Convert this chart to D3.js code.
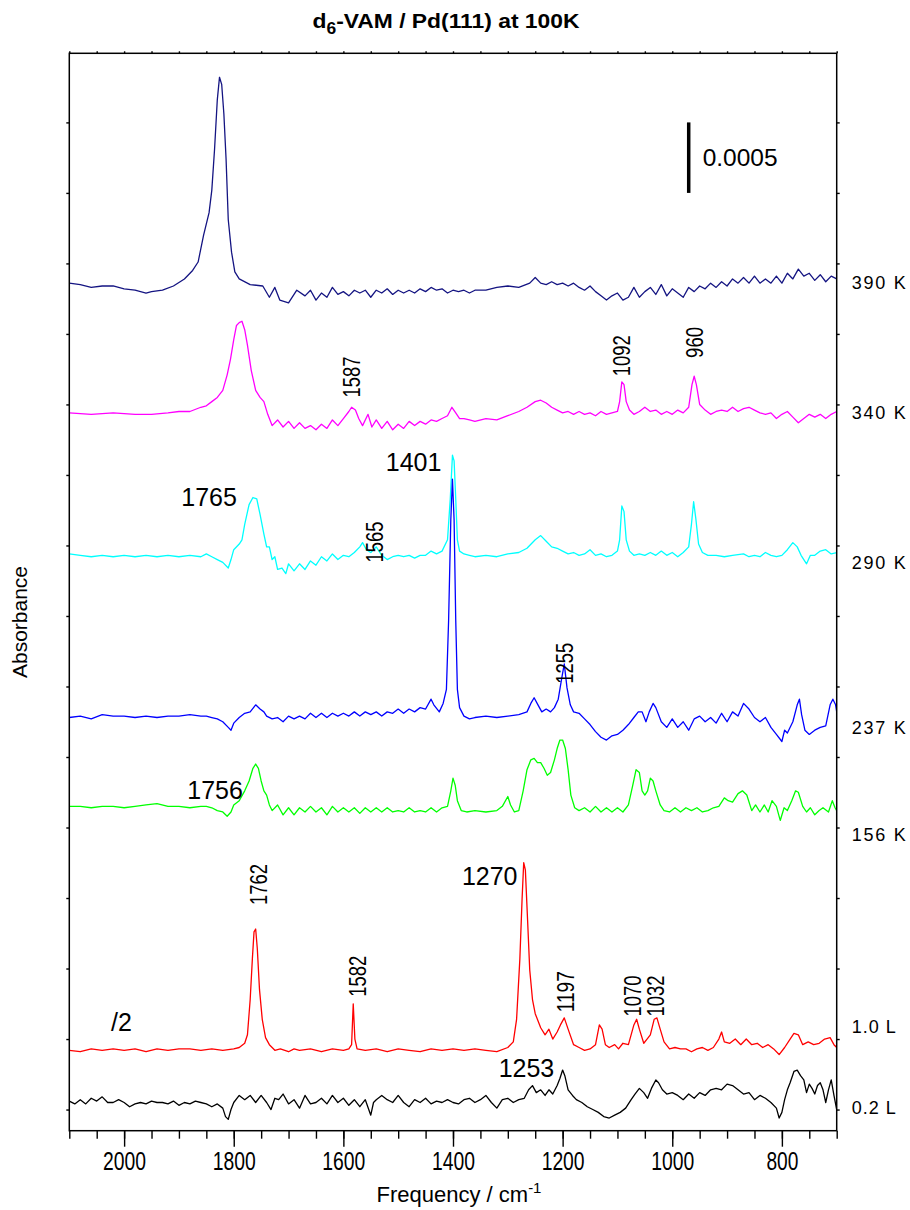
<!DOCTYPE html>
<html>
<head>
<meta charset="utf-8">
<script src="https://cdn.jsdelivr.net/npm/d3@7"></script>
<style>
  body { margin: 0; background: #fff; }
  svg { display: block; font-family: "Liberation Sans", Arial, Helvetica, sans-serif; }
</style>
</head>
<body>
<div id="viz"></div>
<script>
// spectra: [wavenumber cm-1, absorbance x 1e-5, relative to the trace baseline]
const spec390 = [[2100,1],[2080,0],[2060,-2],[2040,-1],[2020,-1],[2000,-3],[1980,-4],[1960,-6],[1950,-5],[1930,-4],[1910,-1],[1890,4],[1875,10],[1865,16],[1855,35],[1845,51],[1840,67],[1835,96],[1830,131],[1826,147],[1822,142],[1818,121],[1814,89],[1810,46],[1804,23],[1798,9],[1790,4],[1770,0],[1747,-1],[1735,-9],[1725,-2],[1716,-11],[1700,-13],[1685,-4],[1670,-8],[1660,-4],[1650,-11],[1640,-6],[1630,-9],[1620,-2],[1610,-7],[1600,-5],[1590,-8],[1580,-4],[1570,-6],[1560,-4],[1550,-9],[1540,-4],[1530,-6],[1520,-3],[1510,-7],[1500,-4],[1490,-6],[1480,-4],[1470,-6],[1460,-3],[1450,-5],[1440,-2],[1430,-4],[1420,-3],[1410,-6],[1400,-4],[1390,-5],[1380,-4],[1370,-6],[1360,-4],[1340,-4],[1320,-2],[1300,-1],[1280,-2],[1260,1],[1250,5],[1240,1],[1230,0],[1220,2],[1210,0],[1200,1],[1190,-1],[1180,1],[1170,-2],[1160,-4],[1150,-1],[1140,-5],[1130,-8],[1120,-11],[1110,-8],[1100,-6],[1090,-11],[1080,-9],[1070,-2],[1060,-9],[1050,-5],[1040,-2],[1030,-7],[1020,0],[1010,-8],[1000,-3],[990,-6],[980,-9],[970,-2],[960,-5],[950,-1],[940,-3],[930,1],[920,-2],[910,2],[900,-1],[890,4],[880,1],[870,5],[860,1],[850,6],[840,1],[830,4],[820,1],[810,6],[800,1],[790,8],[780,4],[770,11],[760,6],[750,8],[740,3],[730,7],[720,2],[710,6],[700,4]];

const spec340 = [[2100,0],[2060,-1],[2020,0],[1980,-1],[1950,-1],[1920,0],[1900,1],[1880,1],[1860,4],[1850,5],[1840,8],[1830,11],[1820,16],[1812,27],[1806,38],[1800,52],[1795,62],[1790,64],[1785,65],[1780,59],[1775,48],[1768,30],[1760,16],[1752,11],[1745,8],[1738,-1],[1730,-9],[1720,-5],[1710,-10],[1700,-6],[1690,-11],[1680,-7],[1670,-11],[1660,-9],[1650,-12],[1640,-8],[1630,-11],[1620,-5],[1610,-9],[1600,-4],[1590,1],[1585,4],[1578,2],[1572,-4],[1565,-9],[1555,-1],[1548,-10],[1540,-5],[1530,-11],[1520,-6],[1510,-12],[1500,-8],[1490,-11],[1480,-6],[1470,-9],[1460,-6],[1450,-8],[1440,-5],[1430,-6],[1420,-4],[1410,-2],[1402,4],[1395,0],[1388,-4],[1380,-4],[1370,-5],[1360,-6],[1340,-4],[1320,-5],[1300,-2],[1280,1],[1265,4],[1250,8],[1240,9],[1230,7],[1220,4],[1210,2],[1200,0],[1190,1],[1180,-1],[1170,1],[1160,-1],[1150,0],[1140,-2],[1130,1],[1120,-1],[1110,0],[1100,1],[1096,8],[1092,22],[1088,20],[1084,8],[1078,2],[1070,-1],[1060,1],[1050,4],[1040,1],[1030,2],[1020,-1],[1010,1],[1000,-1],[990,2],[980,0],[970,4],[964,20],[960,26],[956,20],[950,6],[940,2],[930,-1],[920,1],[910,2],[900,1],[890,4],[880,1],[870,3],[860,4],[850,2],[840,0],[830,-1],[820,0],[810,-4],[800,-1],[790,1],[780,-3],[770,-7],[760,-4],[750,-1],[740,-3],[730,-1],[720,-4],[710,-1],[700,1]];

const spec290 = [[2100,1],[2080,0],[2060,-1],[2040,0],[2020,-1],[2000,0],[1980,-1],[1960,0],[1940,-1],[1920,0],[1900,-1],[1880,0],[1860,-1],[1850,1],[1840,-1],[1830,-3],[1820,-5],[1810,-9],[1805,-3],[1800,4],[1790,8],[1785,11],[1780,22],[1772,36],[1765,41],[1758,40],[1752,29],[1745,15],[1740,6],[1735,6],[1730,-3],[1725,-1],[1720,-10],[1712,-9],[1705,-13],[1700,-6],[1690,-11],[1680,-6],[1670,-10],[1660,-4],[1650,-7],[1640,-1],[1630,-4],[1620,1],[1610,-3],[1600,0],[1590,-1],[1580,2],[1570,6],[1565,9],[1558,4],[1550,2],[1540,6],[1530,0],[1520,-3],[1510,-1],[1500,0],[1490,-1],[1480,0],[1470,-2],[1460,0],[1450,0],[1440,3],[1430,1],[1420,3],[1410,11],[1405,40],[1401,71],[1398,67],[1395,40],[1392,11],[1388,3],[1380,1],[1370,0],[1360,-1],[1340,0],[1320,-1],[1300,1],[1280,2],[1265,5],[1250,11],[1240,14],[1230,10],[1220,6],[1210,5],[1200,3],[1190,1],[1180,2],[1170,0],[1160,1],[1150,4],[1140,0],[1130,1],[1120,-1],[1110,0],[1100,3],[1096,11],[1092,35],[1088,31],[1084,11],[1078,3],[1070,0],[1060,1],[1050,0],[1040,2],[1030,0],[1020,3],[1010,0],[1000,2],[990,-1],[980,2],[970,6],[965,22],[961,38],[957,26],[952,8],[945,2],[935,0],[920,0],[905,-1],[890,0],[870,1],[860,-1],[850,0],[840,-1],[830,2],[820,0],[810,-1],[800,0],[790,4],[780,9],[772,6],[765,0],[755,-6],[748,0],[740,0],[730,3],[720,4],[710,1],[700,2]];

const spec237 = [[2100,0],[2080,1],[2060,-1],[2040,2],[2020,1],[2000,1],[1980,0],[1960,1],[1940,0],[1920,1],[1900,1],[1880,2],[1860,1],[1850,1],[1840,0],[1830,-1],[1820,-3],[1810,-7],[1805,-9],[1800,-4],[1790,0],[1780,3],[1770,4],[1760,9],[1752,6],[1745,4],[1740,1],[1730,-1],[1720,0],[1710,-3],[1700,1],[1690,-1],[1680,1],[1670,-1],[1660,3],[1650,0],[1640,3],[1630,0],[1620,3],[1610,1],[1600,3],[1590,1],[1580,4],[1570,1],[1560,4],[1550,2],[1540,4],[1530,1],[1520,4],[1510,3],[1500,6],[1490,3],[1480,6],[1470,4],[1460,7],[1450,6],[1440,13],[1435,9],[1425,4],[1418,10],[1412,20],[1408,69],[1404,140],[1401,169],[1398,140],[1395,69],[1392,20],[1388,7],[1380,1],[1370,-1],[1360,0],[1340,1],[1320,0],[1300,1],[1280,2],[1265,4],[1258,10],[1252,14],[1245,9],[1238,4],[1230,6],[1222,4],[1215,7],[1208,13],[1202,27],[1197,38],[1192,21],[1186,9],[1180,4],[1170,3],[1160,-1],[1150,-5],[1140,-10],[1130,-14],[1120,-16],[1110,-13],[1100,-12],[1090,-9],[1080,-5],[1070,0],[1062,4],[1055,4],[1048,-3],[1042,4],[1035,10],[1030,7],[1020,-3],[1010,-7],[1000,-1],[990,-7],[980,-3],[970,-9],[960,-1],[950,1],[940,-3],[930,0],[920,-4],[910,3],[900,-3],[890,4],[880,1],[870,10],[860,6],[850,0],[840,-3],[830,0],[820,-7],[810,-12],[800,-17],[795,-9],[790,-11],[780,-3],[772,9],[768,13],[764,2],[758,-9],[750,-12],[740,-9],[730,-7],[720,-6],[712,9],[707,13],[702,9],[700,4]];

const spec156 = [[2100,0],[2080,0],[2060,-1],[2040,0],[2020,0],[2000,-1],[1980,0],[1960,1],[1940,2],[1920,0],[1900,0],[1880,-1],[1860,0],[1850,0],[1840,-1],[1830,-3],[1820,-4],[1812,-7],[1805,-4],[1800,1],[1790,4],[1780,11],[1772,18],[1765,27],[1760,30],[1755,27],[1750,18],[1745,11],[1740,8],[1735,1],[1730,-3],[1720,1],[1710,-6],[1700,-1],[1690,-6],[1680,-1],[1670,-4],[1660,0],[1650,-4],[1640,-1],[1630,-6],[1620,0],[1610,-4],[1600,-1],[1590,-4],[1580,-1],[1570,-5],[1560,-1],[1550,-4],[1540,-1],[1530,-4],[1520,-1],[1510,-4],[1500,-3],[1490,-4],[1480,-1],[1470,-4],[1460,-3],[1450,-4],[1440,-1],[1430,-4],[1420,-1],[1410,0],[1404,11],[1400,20],[1396,15],[1392,4],[1385,-3],[1375,-4],[1360,-3],[1340,-4],[1320,-3],[1310,0],[1300,7],[1295,1],[1288,-4],[1280,-3],[1272,11],[1265,26],[1258,33],[1252,34],[1246,31],[1240,31],[1234,27],[1228,22],[1222,24],[1215,33],[1210,41],[1205,47],[1200,47],[1195,41],[1190,26],[1185,8],[1178,-1],[1170,-3],[1160,-1],[1150,-4],[1140,0],[1130,-4],[1120,-1],[1110,-4],[1100,-1],[1090,-4],[1080,1],[1072,15],[1066,26],[1060,24],[1055,11],[1050,8],[1045,11],[1040,20],[1035,18],[1030,11],[1022,1],[1015,-3],[1005,-4],[995,-1],[985,-4],[975,-1],[965,-3],[955,-1],[945,-4],[935,-3],[925,-1],[915,0],[905,6],[898,4],[890,3],[880,9],[872,11],[864,8],[855,-3],[848,1],[840,-4],[832,1],[825,-4],[818,4],[810,0],[803,-10],[796,-1],[790,-3],[782,4],[775,11],[770,10],[762,0],[755,-4],[748,-1],[740,-6],[732,-3],[725,-1],[715,-4],[708,4],[703,-1],[700,-3]];

const spec10L = [[2100,0],[2080,-1],[2060,1],[2040,0],[2020,1],[2000,0],[1980,1],[1960,-1],[1940,1],[1920,0],[1900,1],[1880,1],[1860,0],[1840,1],[1820,0],[1800,1],[1790,2],[1780,5],[1775,11],[1770,36],[1766,65],[1763,84],[1760,86],[1757,72],[1753,43],[1748,22],[1742,9],[1735,4],[1725,0],[1715,1],[1700,-1],[1690,1],[1680,0],[1660,1],[1640,-1],[1620,1],[1600,0],[1590,1],[1585,4],[1582,33],[1579,8],[1575,1],[1560,0],[1540,1],[1520,-1],[1500,1],[1480,0],[1460,-1],[1440,1],[1420,0],[1400,1],[1380,0],[1360,1],[1340,0],[1320,-1],[1300,2],[1290,6],[1284,22],[1278,65],[1274,107],[1271,133],[1268,128],[1264,93],[1260,57],[1255,36],[1250,26],[1245,21],[1240,16],[1232,11],[1225,15],[1218,8],[1210,13],[1204,18],[1197,23],[1190,15],[1180,4],[1170,2],[1160,0],[1150,1],[1140,4],[1133,18],[1128,15],[1122,4],[1115,2],[1105,4],[1098,1],[1090,5],[1080,4],[1070,18],[1065,22],[1060,15],[1052,5],[1046,8],[1040,11],[1033,22],[1028,23],[1022,15],[1015,6],[1005,1],[995,2],[985,1],[975,1],[965,-1],[955,1],[945,2],[935,0],[925,2],[915,8],[910,13],[905,6],[895,5],[885,8],[875,4],[865,8],[855,4],[845,5],[835,2],[825,4],[815,1],[805,-3],[795,2],[785,8],[778,12],[770,11],[762,4],[752,6],[742,4],[732,5],[722,8],[712,9],[705,4],[700,2]];

const spec02L = [[2100,0],[2090,-2],[2080,1],[2070,-2],[2060,2],[2050,0],[2040,3],[2030,-1],[2020,-1],[2010,1],[2000,-1],[1990,-4],[1980,-2],[1970,-1],[1960,-2],[1950,0],[1940,-1],[1930,-1],[1920,-2],[1910,0],[1900,-3],[1890,-1],[1880,-2],[1870,0],[1860,-1],[1850,-2],[1840,-4],[1830,-2],[1820,-5],[1815,-11],[1810,-13],[1805,-6],[1800,-1],[1790,4],[1780,1],[1770,4],[1760,-1],[1750,4],[1740,-1],[1732,-6],[1725,2],[1718,1],[1710,5],[1700,-2],[1690,1],[1680,-5],[1670,4],[1660,-2],[1650,-1],[1640,2],[1630,-2],[1620,4],[1610,-1],[1600,2],[1590,-3],[1580,1],[1570,-4],[1560,1],[1550,-10],[1545,-1],[1540,1],[1530,4],[1520,1],[1510,-1],[1500,4],[1490,-1],[1480,-4],[1470,1],[1460,-1],[1450,2],[1440,-2],[1430,0],[1420,-1],[1410,1],[1400,-1],[1390,-2],[1380,1],[1370,2],[1360,-1],[1350,1],[1340,4],[1330,-1],[1320,-5],[1310,1],[1300,2],[1290,-1],[1280,1],[1270,2],[1262,8],[1255,11],[1248,6],[1240,8],[1232,4],[1225,8],[1218,5],[1210,11],[1205,16],[1200,22],[1196,18],[1190,8],[1182,4],[1175,1],[1165,-1],[1155,-4],[1145,-6],[1135,-8],[1125,-11],[1115,-12],[1105,-10],[1095,-8],[1085,-5],[1075,1],[1068,5],[1060,9],[1052,6],[1045,2],[1038,9],[1030,15],[1025,13],[1018,8],[1010,5],[1000,6],[990,4],[980,1],[970,5],[960,2],[950,6],[940,4],[930,8],[920,9],[910,8],[900,12],[890,11],[880,8],[870,5],[860,6],[850,1],[840,4],[830,2],[820,-1],[810,-5],[805,-12],[800,-8],[795,1],[790,8],[785,13],[778,21],[772,22],[766,18],[760,15],[755,6],[750,12],[745,9],[740,5],[735,11],[730,13],[725,8],[720,-1],[715,8],[710,15],[705,4],[700,-6]];

const spectra = [spec390, spec340, spec290, spec237, spec156, spec10L, spec02L];
const traceNames = ["390 K", "340 K", "290 K", "237 K", "156 K", "1.0 L", "0.2 L"];
const traceColors = ["#141482", "#ff00ff", "#00ffff", "#0000ff", "#00ff00", "#ff0000", "#000000"];
const traceOffsets = [585, 494, 393, 278, 215, 42, 6];
const nameLevels = [586, 494, 388, 271, 195, 59, 1];

// peak labels: [text, wavenumber, absorbance level, rotated]
const peakLabels = [
  ["1587", 1585, 505, true], ["1092", 1093, 520, true], ["960", 960, 533, true],
  ["1565", 1543, 388, true], ["1255", 1197, 302, true], ["1762", 1756, 145, true],
  ["1582", 1574, 80, true], ["1197", 1195, 69, true], ["1070", 1073, 66, true],
  ["1032", 1031, 66, true],
  ["1765", 1845, 428, false], ["1401", 1472, 453, false], ["1756", 1834, 220, false],
  ["1270", 1333, 159, false], ["1253", 1266, 23, false], ["/2", 2005, 56, false]
];

const majorTicks = [2000, 1800, 1600, 1400, 1200, 1000, 800];
const minorTicks = d3.range(700, 2101, 50);
const yTicks = d3.range(0, 701, 50);
const scaleBar = {freq: 970, from: 650, to: 700, label: "0.0005"};

const width = 910, height = 1210;
const margin = {left: 69.3, right: 73.3, top: 53.3, bottom: 79.3};

const svg = d3.select("#viz").append("svg")
  .attr("width", width)
  .attr("height", height);

const xScale = d3.scaleLinear()
  .domain([2100, 700])
  .range([margin.left, width - margin.right]);

const yScale = d3.scaleLinear()
  .domain([-15, 749])
  .range([height - margin.bottom, margin.top]);

svg.append("clipPath").attr("id", "plot-clip")
  .append("rect")
    .attr("x", margin.left).attr("y", margin.top)
    .attr("width", width - margin.left - margin.right)
    .attr("height", height - margin.top - margin.bottom);

// traces
const line = d3.line();
svg.append("g")
  .attr("clip-path", "url(#plot-clip)")
  .selectAll(".trace")
  .data(spectra)
  .join("path")
    .attr("class", "trace")
    .attr("fill", "none")
    .attr("stroke", (d, i) => traceColors[i])
    .attr("stroke-width", 1.3)
    .attr("stroke-linejoin", "round")
    .attr("d", (d, i) => line(d.map(p => [xScale(p[0]), yScale(p[1] + traceOffsets[i])])));

// axes
const bottom = height - margin.bottom;
const gMinor = svg.append("g")
  .attr("transform", `translate(0,${bottom})`)
  .call(d3.axisBottom(xScale).tickValues(minorTicks).tickSize(8).tickFormat(""));
const gMajor = svg.append("g")
  .attr("transform", `translate(0,${bottom})`)
  .call(d3.axisBottom(xScale).tickValues(majorTicks).tickSize(16).tickPadding(6).tickFormat(d3.format("d")));
gMajor.selectAll("text")
  .attr("font-size", 25)
  .attr("fill", "#000")
  .attr("font-family", "'Liberation Sans Narrow', 'Liberation Sans', Arial, sans-serif")
  .attr("textLength", d => d >= 1000 ? 43 : 32)
  .attr("lengthAdjust", "spacingAndGlyphs");

const gTop = svg.append("g")
  .attr("transform", `translate(0,${margin.top})`)
  .call(d3.axisTop(xScale).tickValues(minorTicks).tickSize(2).tickFormat(""));
const gLeft = svg.append("g")
  .attr("transform", `translate(${margin.left},0)`)
  .call(d3.axisLeft(yScale).tickValues(yTicks).tickSize(3).tickFormat(""));
const gRight = svg.append("g")
  .attr("transform", `translate(${width - margin.right},0)`)
  .call(d3.axisRight(yScale).tickValues(yTicks).tickSize(3).tickFormat(""));

[gMinor, gMajor, gTop, gLeft, gRight].forEach(g => {
  g.selectAll(".domain").remove();
  g.selectAll(".tick line").attr("stroke", "#000").attr("stroke-width", 1.4);
});

svg.append("rect")
  .attr("x", margin.left).attr("y", margin.top)
  .attr("width", width - margin.left - margin.right)
  .attr("height", height - margin.top - margin.bottom)
  .attr("fill", "none")
  .attr("stroke", "#000")
  .attr("stroke-width", 1.5);

// trace names on the right
svg.selectAll(".trace-name")
  .data(traceNames)
  .join("text")
    .attr("class", "trace-name")
    .attr("x", width - margin.right + 15)
    .attr("y", (d, i) => yScale(nameLevels[i]))
    .attr("dy", "0.35em")
    .attr("font-size", 18)
    .attr("textLength", d => d.endsWith("K") ? 54 : 44)
    .attr("lengthAdjust", "spacing")
    .text(d => d);

// peak labels
svg.selectAll(".peak-label")
  .data(peakLabels)
  .join("text")
    .attr("class", "peak-label")
    .attr("font-size", d => d[3] ? 24 : 25)
    .attr("text-anchor", d => d[3] ? "start" : "middle")
    .attr("dy", d => d[3] ? "0.36em" : 0)
    .attr("textLength", d => d[3] ? (d[0].length === 4 ? 41 : 31) : null)
    .attr("lengthAdjust", "spacingAndGlyphs")
    .attr("transform", d => d[3]
      ? `translate(${xScale(d[1])},${yScale(d[2])}) rotate(-90)`
      : `translate(${xScale(d[1])},${yScale(d[2])})`)
    .text(d => d[0]);

// scale bar
svg.append("line")
  .attr("x1", xScale(scaleBar.freq)).attr("x2", xScale(scaleBar.freq))
  .attr("y1", yScale(scaleBar.from)).attr("y2", yScale(scaleBar.to))
  .attr("stroke", "#000")
  .attr("stroke-width", 3.5);
svg.append("text")
  .attr("x", xScale(scaleBar.freq) + 14)
  .attr("y", yScale((scaleBar.from + scaleBar.to) / 2))
  .attr("dy", "0.36em")
  .attr("font-size", 24.5)
  .text(scaleBar.label);

// title
const title = svg.append("text")
  .attr("x", width / 2 - 9)
  .attr("y", 28)
  .attr("text-anchor", "middle")
  .attr("font-size", 21)
  .attr("font-weight", "bold")
  .attr("textLength", 267)
  .attr("lengthAdjust", "spacingAndGlyphs");
title.append("tspan").text("d");
title.append("tspan").attr("font-size", 16).attr("dy", 6).text("6");
title.append("tspan").attr("dy", -6).text("-VAM / Pd(111) at 100K");

// axis titles
const xTitle = svg.append("text")
  .attr("x", (margin.left + width - margin.right) / 2 + 6)
  .attr("y", 1202)
  .attr("text-anchor", "middle")
  .attr("font-size", 22);
xTitle.append("tspan").text("Frequency / cm");
xTitle.append("tspan").attr("font-size", 15).attr("dy", -9).text("-1");

svg.append("text")
  .attr("transform", `translate(27,${(margin.top + height - margin.bottom) / 2 + 30}) rotate(-90)`)
  .attr("text-anchor", "middle")
  .attr("font-size", 21)
  .text("Absorbance");
</script>
</body>
</html>
